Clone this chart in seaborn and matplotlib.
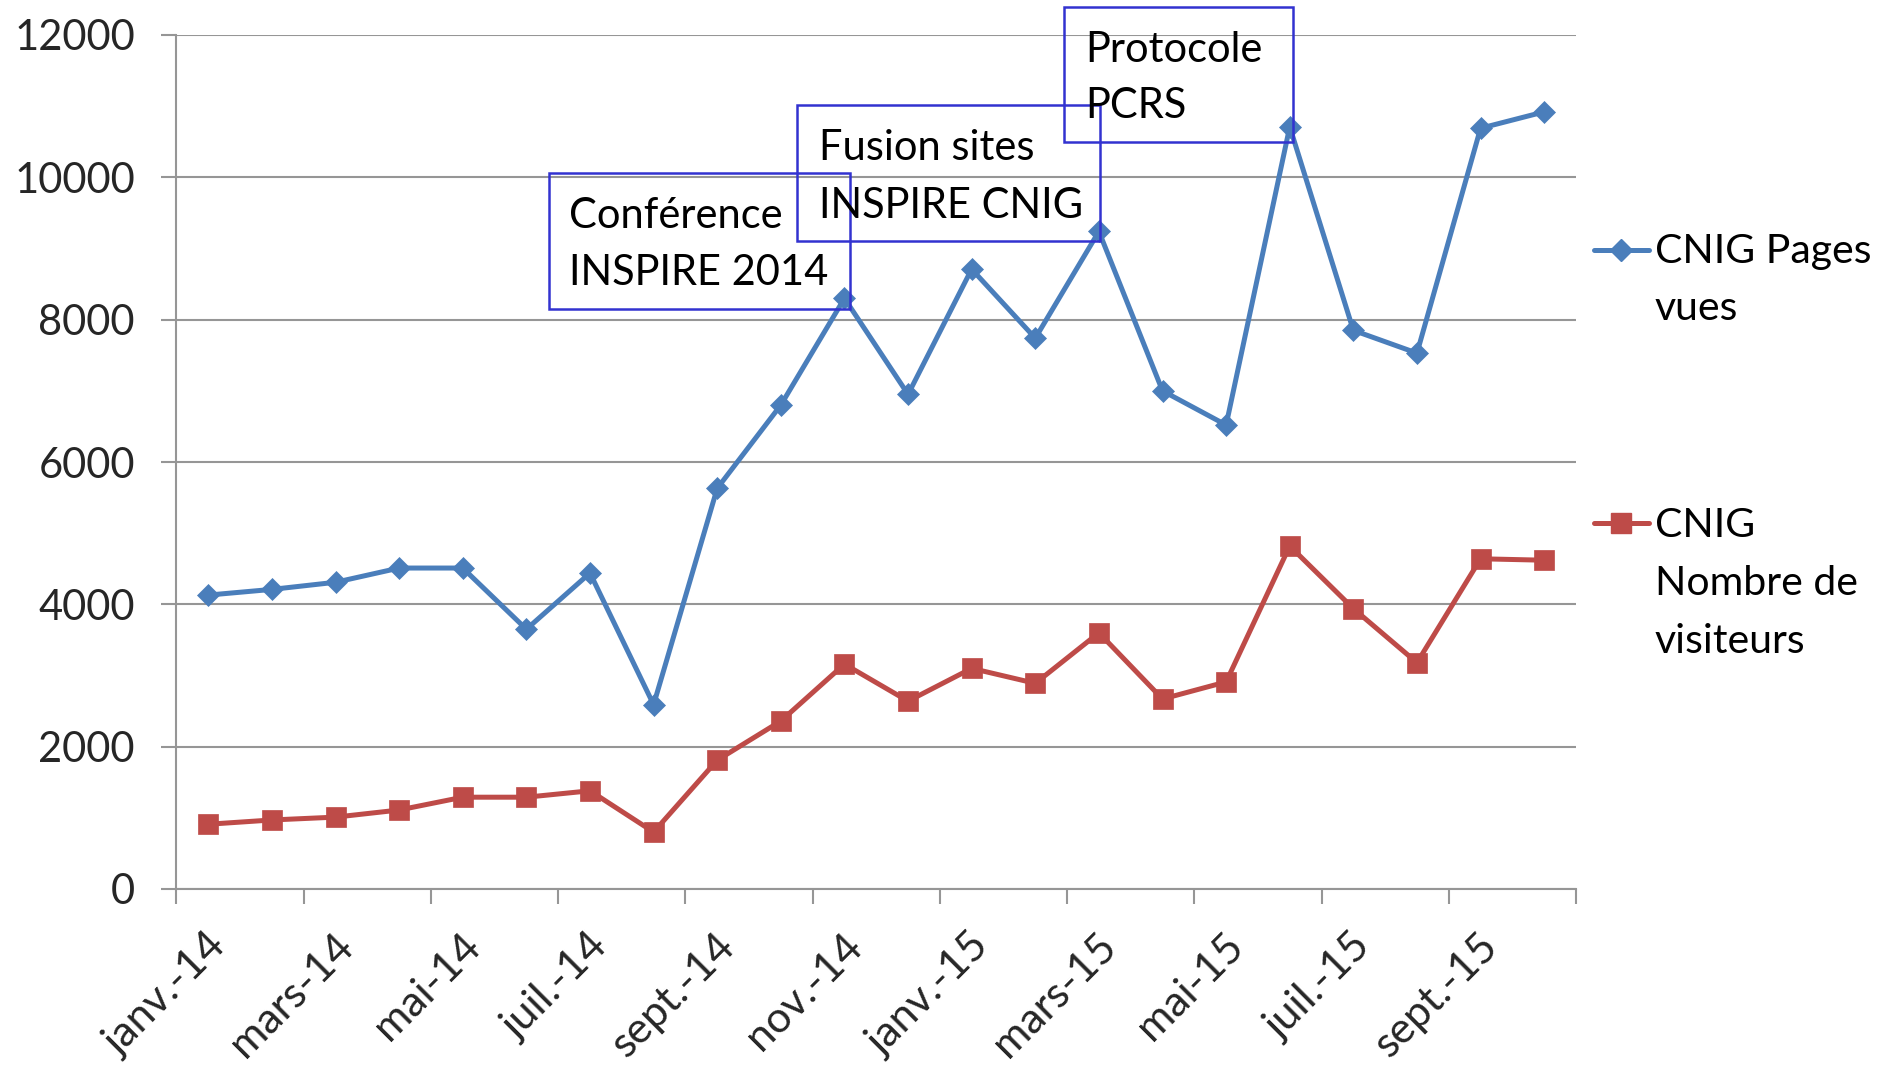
import matplotlib
matplotlib.use('Agg')
import matplotlib.pyplot as plt
import matplotlib.ticker as mticker
from matplotlib.patches import Rectangle
from matplotlib.lines import Line2D
from matplotlib.transforms import ScaledTranslation
import seaborn as sns
import numpy as np
import pandas as pd

# données (janv. 2014 -> oct. 2015)
mois = ['janv.-14', 'févr.-14', 'mars-14', 'avr.-14', 'mai-14', 'juin-14',
        'juil.-14', 'août-14', 'sept.-14', 'oct.-14', 'nov.-14', 'déc.-14',
        'janv.-15', 'févr.-15', 'mars-15', 'avr.-15', 'mai-15', 'juin-15',
        'juil.-15', 'août-15', 'sept.-15', 'oct.-15']
pages_vues = [4130, 4210, 4310, 4510, 4510, 3650, 4440, 2590, 5630, 6800, 8300,
              6950, 8710, 7740, 9240, 7000, 6520, 10710, 7850, 7530, 10690, 10920]
visiteurs = [910, 970, 1010, 1110, 1290, 1290, 1380, 800, 1810, 2360, 3160,
             2640, 3100, 2890, 3600, 2670, 2910, 4820, 3940, 3180, 4640, 4620]
y_ticks = [0, 2000, 4000, 6000, 8000, 10000, 12000]

serie_pages = 'CNIG Pages\nvues'
serie_visit = 'CNIG\nNombre de\nvisiteurs'

evenements = [
    ('Conférence', 'INSPIRE 2014'),
    ('Fusion sites', 'INSPIRE CNIG'),
    ('Protocole', 'PCRS'),
]

BLUE = '#4A7EBB'
RED = '#BE4B48'
GRID = '#969696'
BOX = '#3232d0'

sns.set_theme(style='white')
plt.rcParams['font.family'] = ['Lato', 'DejaVu Sans']

W, H = 1883, 1081
fig = plt.figure(figsize=(W / 100, H / 100), dpi=100)

def fx(x):
    return x / W

def fy(y):
    return 1 - y / H

ax = fig.add_axes([fx(176.5), fy(889), (1576 - 176.5) / W, (889 - 35) / H])

df = pd.DataFrame({'pos': np.arange(len(mois)), 'mois': mois,
                   'pages': pages_vues, 'visit': visiteurs})

sns.lineplot(data=df, x='pos', y='pages', ax=ax, color=BLUE, lw=3.6,
             marker='D', markersize=11.5, markeredgecolor=BLUE, markeredgewidth=0.5)
sns.lineplot(data=df, x='pos', y='visit', ax=ax, color=RED, lw=3.6,
             marker='s', markersize=14.5, markeredgecolor=RED, markeredgewidth=0.5)

ax.set_xlim(-0.5, len(mois) - 0.5)
ax.set_ylim(0, 12000)
ax.set_xlabel('')
ax.set_ylabel('')

# axe Y
ax.set_yticks(y_ticks)
ax.yaxis.set_major_formatter(mticker.FuncFormatter(lambda v, _: f'{v:.0f}'))
ax.grid(axis='y', color=GRID, lw=1.5)
ax.grid(axis='x', visible=False)
ax.tick_params(axis='y', which='major', length=11, width=1.5, color=GRID,
               labelsize=30, pad=19, left=True)

# axe X : traits entre les catégories, étiquettes tous les 2 mois
pos_lab = df['pos'].tolist()[::2]
txt_lab = df['mois'].tolist()[::2]
ax.xaxis.set_major_locator(mticker.FixedLocator(np.arange(-0.5, len(mois), 2)))
ax.xaxis.set_major_formatter(mticker.NullFormatter())
ax.xaxis.set_minor_locator(mticker.FixedLocator(pos_lab))
ax.xaxis.set_minor_formatter(mticker.FixedFormatter(txt_lab))
ax.tick_params(axis='x', which='major', length=11, width=1.5, color=GRID, bottom=True)
ax.tick_params(axis='x', which='minor', length=0, labelsize=31, pad=27)
offset = ScaledTranslation(-2 / 100, 0, fig.dpi_scale_trans)
for lab in ax.get_xticklabels(minor=True):
    lab.set_rotation(45)
    lab.set_ha('right')
    lab.set_va('top')
    lab.set_rotation_mode('anchor')
    lab.set_transform(lab.get_transform() + offset)

for s in ['top', 'right']:
    ax.spines[s].set_visible(False)
for s in ['left', 'bottom']:
    ax.spines[s].set_color(GRID)
    ax.spines[s].set_linewidth(1.5)

# encadrés d'événements (pixels de la figure)
boites = [(549, 173, 850, 309), (797, 105, 1100, 241), (1064, 7, 1293, 142)]
textes_x = [569, 819, 1085]
lignes_y = [(228, 285), (160, 218), (62, 118)]
for (l, t, r, b), tx, (y1, y2), (l1, l2) in zip(boites, textes_x, lignes_y, evenements):
    fig.add_artist(Rectangle((fx(l), fy(b)), (r - l) / W, (b - t) / H,
                             transform=fig.transFigure, fill=False, ec=BOX, lw=1.8))
    fig.text(fx(tx), fy(y1), l1, fontsize=30, va='baseline', color='black')
    fig.text(fx(tx), fy(y2), l2, fontsize=30, va='baseline', color='black')

# légende à droite, poignée alignée sur la première ligne
legende = [(serie_pages, BLUE, 'D', 11.5, 250, [263, 320]),
           (serie_visit, RED, 's', 14.5, 523, [537, 595, 653])]
for nom, col, mk, ms, yh, bases in legende:
    fig.add_artist(Line2D([fx(1594), fx(1649)], [fy(yh), fy(yh)], color=col, lw=3.6,
                          transform=fig.transFigure))
    fig.add_artist(Line2D([fx(1621)], [fy(yh)], color=col, marker=mk, markersize=ms,
                          markeredgecolor=col, transform=fig.transFigure))
    for ligne, yb in zip(nom.split('\n'), bases):
        fig.text(fx(1655), fy(yb), ligne, fontsize=29.5, va='baseline', color='black')

fig.savefig('out.png', dpi=100)
